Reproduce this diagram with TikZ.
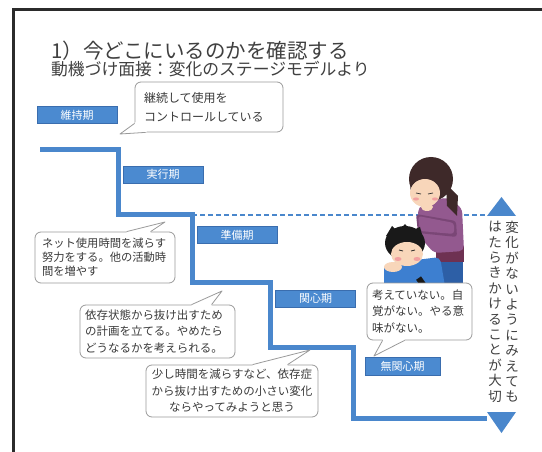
\documentclass[tikz,border=0pt]{standalone}
\usepackage{fontspec}
\setmainfont{Noto Sans CJK JP}
\usetikzlibrary{calc}
\definecolor{frameline}{HTML}{2B2B2B}
\definecolor{stepblue}{HTML}{4A87CC}
\definecolor{stagefill}{HTML}{4B8AD0}
\definecolor{stageedge}{HTML}{3A6DAE}
\definecolor{calloutedge}{HTML}{9A9A9A}
\definecolor{textgray}{HTML}{3A3A3A}
\definecolor{titlegray}{HTML}{404040}
\definecolor{skin}{HTML}{F8D6BA}
\definecolor{blush}{HTML}{F2A0A0}
\definecolor{hairbrown}{HTML}{3E2929}
\definecolor{sweater}{HTML}{93598F}
\definecolor{sweaterdark}{HTML}{7A4676}
\definecolor{skirt}{HTML}{6E3152}
\definecolor{jeans}{HTML}{2D5FA6}
\definecolor{shirt}{HTML}{3D7FD0}

\newcommand\tailshape[4]{%
  \fill[white] ($(#1)+(#4)$) -- (#1) -- (#3) -- (#2) -- ($(#2)+(#4)$) -- cycle;
  \draw[tailline] (#1) -- (#3) -- (#2);}

\begin{document}
\begin{tikzpicture}[x=1pt,y=-1pt,
  stage/.style={fill=stagefill, draw=stageedge, line width=0.8pt, text=white,
    font=\fontsize{11}{13}\selectfont, minimum width=80pt, minimum height=17pt, inner sep=0pt},
  callout/.style={draw=calloutedge, fill=white, rounded corners=6pt, line width=0.8pt,
    text=textgray, inner ysep=0pt},
  tailline/.style={draw=calloutedge, line width=0.8pt, line join=round},
  stepline/.style={draw=stepblue, line width=5pt},
  vcol/.style={anchor=north, align=center, inner sep=0pt, text=titlegray,
    font=\fontsize{13.5}{15.4}\selectfont}]

\useasboundingbox (0,0) rectangle (542,452);
\fill[white] (0,0) rectangle (542,452);

% slide frame
\draw[frameline, line width=3pt] (13.5,452) -- (13.5,10) -- (542,10);

% headings
\node[anchor=west, inner sep=0pt, text=titlegray, font=\fontsize{20.5}{24}\selectfont]
  (title) at (51,51) {1）今どこにいるのかを確認する};
\node[anchor=west, inner sep=0pt, text=titlegray, font=\fontsize{16.8}{20}\selectfont]
  (subtitle) at (51,69) {動機づけ面接：変化のステージモデルより};

% staircase of stages
\draw[stepblue, line width=1.6pt, dash pattern=on 5pt off 3pt] (192,215) -- (487,215);
\draw[stepline] (40,150) -- (118,150) -- (118,215) -- (192,215) -- (192,282)
  -- (270,282) -- (270,347) -- (353,347) -- (353,418) -- (487,418);

\node[stage] (s1) at (77,115) {維持期};
\node[stage] (s2) at (163,174.5) {実行期};
\node[stage] (s3) at (237,235) {準備期};
\node[stage] (s4) at (315.5,298.5) {関心期};
\node[stage, minimum width=75pt, minimum height=18pt] (s5) at (402.5,366) {無関心期};

% arrow heads of the vertical scale
\fill[stepblue] (487,216) -- (516,216) -- (501.5,197) -- cycle;
\fill[stepblue] (487,412) -- (516,412) -- (501.5,433) -- cycle;

\node[vcol] (vr) at (512,221) {変\\化\\が\\な\\い\\よ\\う\\に\\み\\え\\て\\も};
\node[vcol] (vl) at (495,221) {は\\た\\ら\\き\\か\\け\\る\\こ\\と\\が\\大\\切};

% mother, standing behind and leaning forward
\fill[jeans] (439,256) rectangle (463,292);
\fill[skirt] (436,246) rectangle (464,262);
\fill[sweater, rounded corners=5pt] (418,207) -- (446,197) -- (462,208) -- (464,251)
  -- (434,253) -- (419,236) -- cycle;
\fill[sweaterdark, rounded corners=3pt] (416,214) -- (456,221) -- (457,237) -- (418,233) -- cycle;
\fill[sweater, rounded corners=3pt] (418,216) -- (454,223) -- (454,234) -- (420,231) -- cycle;
\fill[hairbrown] (446,184) -- (458,196) -- (457,216) -- (447,206) -- cycle;
\fill[hairbrown] (431,179) ellipse [x radius=22, y radius=22];
\fill[skin] (425,193) ellipse [x radius=15, y radius=14];
\fill[hairbrown] (410,190) .. controls (413,178) and (428,174) .. (441,183)
  -- (450,180) -- (446,166) -- (414,168) -- cycle;
\fill[skin] (427,207) ellipse [x radius=6, y radius=4];
\draw[black!80, line width=0.7pt] (416,193) -- (421,194) (428,194) -- (433,193);
\fill[blush] (416,199) ellipse [x radius=3, y radius=1.6];
\fill[blush] (435,199) ellipse [x radius=3, y radius=1.6];

% son, looking at his phone
\fill[shirt, rounded corners=5pt] (384,264) -- (440,257) -- (446,292) -- (384,292) -- cycle;
\fill[black!90] (405,243) ellipse [x radius=20, y radius=17];
\fill[black!90] (386,236) -- (392,226) -- (398,232) -- (405,224) -- (411,231) -- (420,227)
  -- (424,242) -- cycle;
\fill[skin] (407,254) ellipse [x radius=16, y radius=12];
\draw[black!85, line width=0.8pt] (399,250) -- (403,251) (411,251) -- (415,250);
\fill[blush] (398,259) ellipse [x radius=3.5, y radius=2];
\fill[blush] (417,259) ellipse [x radius=3.5, y radius=2];
\fill[skin] (393,267) ellipse [x radius=9, y radius=5];
\fill[black!90, rotate around={35:(422,283)}] (419,277) rectangle (425,289);

% speech bubbles
\node[callout, font=\fontsize{12}{19}\selectfont, align=left, inner xsep=9pt,
  text width=130pt, minimum height=50pt] (c1) at (209,107)
  {継続して使用を\\コントロールしている};
\coordinate (t1) at (120,134);
\tailshape{$(c1.south west)+(0,-9)$}{$(c1.south west)+(11,0)$}{t1}{3,-3}

\node[callout, font=\fontsize{11.3}{14}\selectfont, align=left, inner xsep=7pt,
  text width=126pt, minimum height=51pt] (c2) at (105,257.5)
  {ネット使用時間を減らす\\努力をする。他の活動時\\間を増やす};
\coordinate (t2) at (165,222);
\tailshape{$(c2.north west)+(92,0)$}{$(c2.north west)+(116,0)$}{t2}{0,2.5}

\node[callout, font=\fontsize{11.5}{16.5}\selectfont, align=left, inner xsep=5pt,
  text width=145pt, minimum height=53pt] (c3) at (157.5,331.5)
  {依存状態から抜け出すため\\の計画を立てる。やめたら\\どうなるかを考えられる。};
\coordinate (t3) at (222,291);
\tailshape{$(c3.north west)+(112,0)$}{$(c3.north west)+(132,0)$}{t3}{0,2.5}

\node[callout, font=\fontsize{11.5}{16.5}\selectfont, align=center, inner xsep=3pt,
  text width=166pt, minimum height=52pt] (c4) at (232,391)
  {少し時間を減らすなど、依存症\\から抜け出すための小さい変化\\ならやってみようと思う};
\coordinate (t4) at (310,350);
\tailshape{$(c4.north west)+(107,0)$}{$(c4.north west)+(142,0)$}{t4}{0,2.5}

\node[callout, font=\fontsize{11.5}{16.5}\selectfont, align=left, inner xsep=5pt,
  text width=95pt, minimum height=57pt] (c5) at (419.5,311.5)
  {考えていない。自\\覚がない。やる意\\味がない。};
\coordinate (t5) at (374,356);
\tailshape{$(c5.south west)+(16,0)$}{$(c5.south west)+(38,0)$}{t5}{0,-2.5}

\end{tikzpicture}
\end{document}
